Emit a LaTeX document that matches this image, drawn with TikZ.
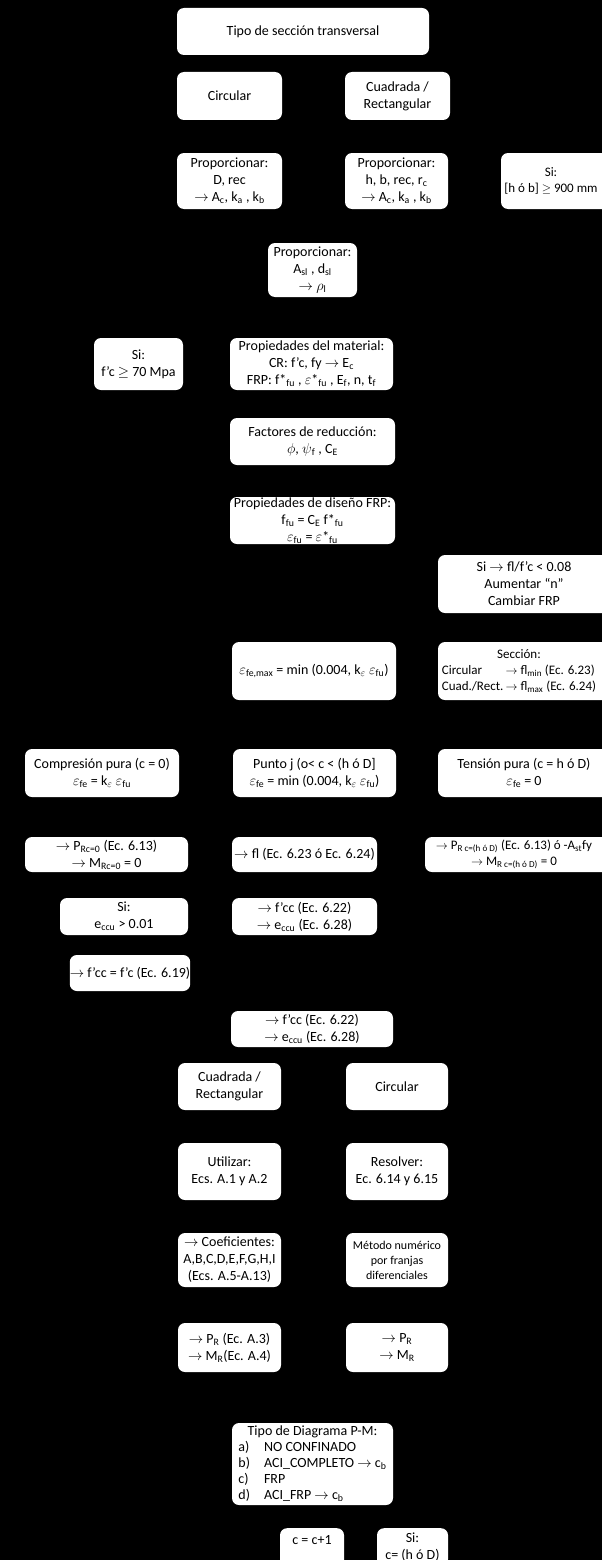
\documentclass[tikz,border=0pt]{standalone}
\usepackage{fontspec}
\setmainfont{Carlito}
\newcommand{\ra}{$\rightarrow$}
\newcommand{\sbs}[1]{\textsubscript{#1}}
\newcommand{\eps}{$\varepsilon$}
\begin{document}
\begin{tikzpicture}[x=1pt,y=-1pt,
  box/.style={fill=white, rounded corners=7pt, inner sep=0pt, align=center,
              font=\fontsize{14}{17}\selectfont},
  small/.style={font=\fontsize{12}{15}\selectfont},
  narrow/.style={font=\fontsize{13}{16}\selectfont}]
\useasboundingbox (0,0) rectangle (602,1560);
\fill[black] (0,0) rectangle (602,1560);
\clip (0,0) rectangle (602,1560);

% section type and geometry
\node[box, minimum width=252, minimum height=47] (tipo) at (303,31.5) {Tipo de sección transversal};
\node[box, minimum width=105, minimum height=48] (circA) at (229.5,96) {Circular};
\node[box, minimum width=105, minimum height=48] (cuadA) at (397.5,96) {Cuadrada /\\Rectangular};
\node[box, minimum width=105, minimum height=56] (propD) at (229.5,181) {Proporcionar:\\D, rec\\\ra{} A\sbs{c}, k\sbs{a} , k\sbs{b}};
\node[box, minimum width=103, minimum height=56] (propH) at (396.5,181) {Proporcionar:\\h, b, rec, r\sbs{c}\\\ra{} A\sbs{c}, k\sbs{a} , k\sbs{b}};
\node[box, narrow, minimum width=110, minimum height=56] (siHB) at (556,181) {};
\node[narrow, align=center, inner sep=0pt] (siHBt) at (551,181) {Si:\\{}[h ó b] $\geq$ 900 mm};
\node[box, minimum width=89, minimum height=54] (propA) at (312.5,270) {Proporcionar:\\A\sbs{sl} , d\sbs{sl}\\\ra{} $\rho$\sbs{l}};

% material and FRP properties
\node[box, minimum width=89, minimum height=52] (siFc) at (138.5,364) {Si:\\f’c $\geq$ 70 Mpa};
\node[box, minimum width=163, minimum height=52] (propMat) at (311.5,364) {Propiedades del material:\\CR: f’c, fy \ra{} E\sbs{c}\\FRP: f*\sbs{fu} , \eps*\sbs{fu} , E\sbs{f}, n, t\sbs{f}};
\node[box, minimum width=165, minimum height=47] (fact) at (312.5,441.5) {Factores de reducción:\\$\phi$, $\psi$\sbs{f} , C\sbs{E}};
\node[box, minimum width=165, minimum height=47] (propFRP) at (312.5,520.5) {Propiedades de diseño FRP:\\f\sbs{fu} = C\sbs{E} f*\sbs{fu}\\\eps\sbs{fu} = \eps*\sbs{fu}};
\node[box, minimum width=172, minimum height=58] (siFl) at (524,584) {Si \ra{} fl/f’c < 0.08\\Aumentar “n”\\Cambiar FRP};
\node[box, minimum width=164, minimum height=58] (epsMax) at (314,671) {\eps\sbs{fe,max} = min (0.004, k\sbs{$\varepsilon$} \eps\sbs{fu})};
\node[box, minimum width=172, minimum height=58] (secc) at (524,671) {};
\node[narrow, align=center, inner sep=0pt] (secct) at (519,671) {\begin{tabular}{@{}l@{\,}l@{}}\multicolumn{2}{c}{Sección:}\\Circular & \ra{} fl\sbs{min} (Ec. 6.23)\\Cuad./Rect. & \ra{} fl\sbs{max} (Ec. 6.24)\end{tabular}};

% characteristic points
\node[box, minimum width=154, minimum height=48] (comp) at (102,773) {Compresión pura (c = 0)\\\eps\sbs{fe} = k\sbs{$\varepsilon$} \eps\sbs{fu}};
\node[box, minimum width=163, minimum height=48] (puntoj) at (314.5,773) {Punto j (o< c < (h ó D]\\\eps\sbs{fe} = min (0.004, k\sbs{$\varepsilon$} \eps\sbs{fu})};
\node[box, minimum width=172, minimum height=48] (tens) at (524,773) {Tensión pura (c = h ó D)\\\eps\sbs{fe} = 0};
\node[box, minimum width=163, minimum height=35] (pRc) at (106.5,854.5) {\ra{} P\sbs{Rc=0} (Ec. 6.13)\\\ra{} M\sbs{Rc=0} = 0};
\node[box, minimum width=145, minimum height=35] (fl) at (304.5,854.5) {\ra{} fl (Ec. 6.23 ó Ec. 6.24)};
\node[box, minimum width=185, minimum height=35] (pRh) at (517.5,854.5) {};
\node[narrow, align=center, inner sep=0pt] (pRht) at (514,854.5) {\ra{} P\sbs{R c=(h ó D)} (Ec. 6.13) ó -A\sbs{st}fy\\\ra{} M\sbs{R c=(h ó D)} = 0};
\node[box, minimum width=128, minimum height=37] (siEccu) at (124,916.5) {Si:\\e\sbs{ccu} > 0.01};
\node[box, minimum width=145, minimum height=37] (fccA) at (304.5,916.5) {\ra{} f’cc (Ec. 6.22)\\\ra{} e\sbs{ccu} (Ec. 6.28)};
\node[box, minimum width=116, minimum height=36] (fccfc) at (130,973) {\ra{} f’cc = f’c (Ec. 6.19)};
\node[box, minimum width=162, minimum height=36] (fccB) at (312,1029) {\ra{} f’cc (Ec. 6.22)\\\ra{} e\sbs{ccu} (Ec. 6.28)};

% interaction diagram by section type
\node[box, minimum width=103, minimum height=47] (cuadB) at (229.5,1086.5) {Cuadrada /\\Rectangular};
\node[box, minimum width=102, minimum height=47] (circB) at (397,1086.5) {Circular};
\node[box, minimum width=103, minimum height=57] (util) at (229.5,1171.5) {Utilizar:\\Ecs. A.1 y A.2};
\node[box, minimum width=102, minimum height=57] (resol) at (397,1171.5) {Resolver:\\Ec. 6.14 y 6.15};
\node[box, minimum width=103, minimum height=54] (coef) at (229.5,1260) {\ra{} Coeficientes:\\A,B,C,D,E,F,G,H,I\\(Ecs. A.5-A.13)};
\node[box, small, minimum width=102, minimum height=54] (metodo) at (397,1260) {Método numérico\\por franjas\\diferenciales};
\node[box, minimum width=103, minimum height=49] (prA) at (229.5,1347.5) {\ra{} P\sbs{R} (Ec. A.3)\\\ra{} M\sbs{R}(Ec. A.4)};
\node[box, minimum width=102, minimum height=49] (prB) at (397,1347.5) {\ra{} P\sbs{R}\\\ra{} M\sbs{R}};

% diagram type and loop
\node[box, minimum width=161, minimum height=82] (tipoD) at (312.5,1464) {\begin{tabular}{@{}l@{\hspace{14pt}}l@{}}\multicolumn{2}{c}{Tipo de Diagrama P-M:}\\[-1pt]a) & NO CONFINADO\\[-1pt]b) & ACI\_COMPLETO \ra{} c\sbs{b}\\[-1pt]c) & FRP\\[-1pt]d) & ACI\_FRP \ra{} c\sbs{b}\end{tabular}};
\node[box, minimum width=64, text depth=16pt, anchor=north, inner ysep=7pt] (cinc) at (312,1528) {c = c+1};
\node[box, minimum width=71, minimum height=38, anchor=north] (siC) at (412.5,1528) {Si:\\c= (h ó D)};
\end{tikzpicture}
\end{document}
